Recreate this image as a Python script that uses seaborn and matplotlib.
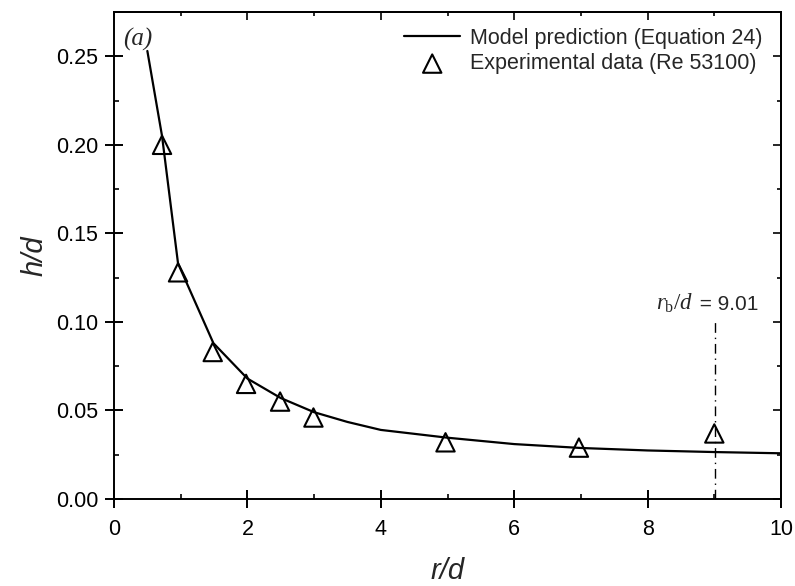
import matplotlib
matplotlib.use("Agg")
import matplotlib.pyplot as plt
import seaborn as sns
import numpy as np
import pandas as pd

# Model prediction (Equation 24)
model_r = [0.5, 0.72, 0.96, 1.49, 2.0, 2.5, 3.0, 3.5, 4.0, 5.0, 6.0, 7.0, 8.0, 9.0, 10.0]
model_h = [0.253, 0.205, 0.133, 0.088, 0.068, 0.057, 0.049, 0.0435, 0.039, 0.0346, 0.031, 0.0288, 0.0274, 0.0265, 0.0258]

# Experimental data (Re 53100)
exp_r = [0.72, 0.96, 1.48, 1.98, 2.49, 2.99, 4.97, 6.97, 9.0]
exp_h = [0.200, 0.128, 0.083, 0.065, 0.055, 0.046, 0.032, 0.029, 0.037]

rb = 9.01
rb_top = 0.10

x_ticks = [0, 2, 4, 6, 8, 10]
y_ticks = [0.00, 0.05, 0.10, 0.15, 0.20, 0.25]

sns.set_style("ticks")
plt.rcParams['font.family'] = ['Liberation Sans', 'DejaVu Sans']
plt.rcParams['mathtext.fontset'] = 'custom'
plt.rcParams['mathtext.it'] = 'Liberation Serif:italic'
plt.rcParams['mathtext.rm'] = 'Liberation Serif'

fig = plt.figure(figsize=(7.95, 5.86), dpi=100)
ax = fig.add_axes([0.1434, 0.1485, 0.8390, 0.8310])

df_model = pd.DataFrame({"r": model_r, "h": model_h})
df_exp = pd.DataFrame({"r": exp_r, "h": exp_h})

sns.lineplot(data=df_model, x="r", y="h", ax=ax, color="black", lw=1.6,
             sort=False, estimator=None, label="Model prediction (Equation 24)")
sns.scatterplot(data=df_exp, x="r", y="h", ax=ax, marker="^", s=175,
                facecolors="none", edgecolor="black", linewidth=1.5,
                label="Experimental data (Re 53100)", zorder=5)

ax.plot([rb, rb], [0, rb_top], color="black", lw=1.0,
        linestyle=(0, (7, 3.5, 1, 3.5)))

ax.text(0.13, 0.256, "(a)", fontfamily="Liberation Serif", fontstyle="italic",
        fontsize=18, ha="left", va="baseline")

ax.set_xlim(0, 10)
ax.set_ylim(0, 0.275)
ax.set_xticks(x_ticks)
ax.set_yticks(y_ticks)
ax.set_xticklabels([str(t) for t in x_ticks])
ax.set_yticklabels([f"{t:.2f}" for t in y_ticks])
ax.set_xticks(np.arange(1, 10, 2), minor=True)
ax.set_yticks([0.025, 0.075, 0.125, 0.175, 0.225], minor=True)

for s in ax.spines.values():
    s.set_visible(True)
    s.set_linewidth(1.4)
    s.set_color("black")

ax.tick_params(which="major", direction="inout", length=13, width=1.4,
               labelsize=15.5, colors="black")
ax.tick_params(axis="x", which="major", pad=8)
ax.tick_params(axis="y", which="major", pad=5)
ax.tick_params(which="minor", direction="in", length=3.5, width=1.4)

secx = ax.secondary_xaxis("top")
secx.set_xticks(x_ticks)
secx.set_xticks(np.arange(1, 10, 2), minor=True)
secx.tick_params(which="major", direction="in", length=6, width=1.4, labeltop=False)
secx.tick_params(which="minor", direction="in", length=3, width=1.4)
secx.spines["top"].set_linewidth(1.4)

secy = ax.secondary_yaxis("right")
secy.set_yticks(y_ticks)
secy.set_yticks([0.025, 0.075, 0.125, 0.175, 0.225], minor=True)
secy.tick_params(which="major", direction="in", length=6, width=1.4, labelright=False)
secy.tick_params(which="minor", direction="in", length=3, width=1.4)
secy.spines["right"].set_linewidth(1.4)

ax.set_xlabel("r/d", fontsize=21, fontstyle="italic", labelpad=12)
ax.set_ylabel("h/d", fontsize=21, fontstyle="italic", labelpad=5)

leg = ax.legend(loc="upper right", bbox_to_anchor=(0.985, 0.985), frameon=False,
                fontsize=15.5, handlelength=2.6, handletextpad=0.45,
                labelspacing=0.2, borderaxespad=0.0)

# r_b/d annotation: serif math part followed by sans value, sharing a baseline
t1 = ax.text(8.13, 0.107, r"$r_{\mathrm{b}}/d$", ha="left", va="baseline", fontsize=16.5)
fig.canvas.draw()
bb = t1.get_window_extent(renderer=fig.canvas.get_renderer())
x_end = ax.transData.inverted().transform((bb.x1, bb.y0))[0]
ax.text(x_end, 0.107, " = 9.01", ha="left", va="baseline", fontsize=15)

fig.savefig("out.png", dpi=100)
